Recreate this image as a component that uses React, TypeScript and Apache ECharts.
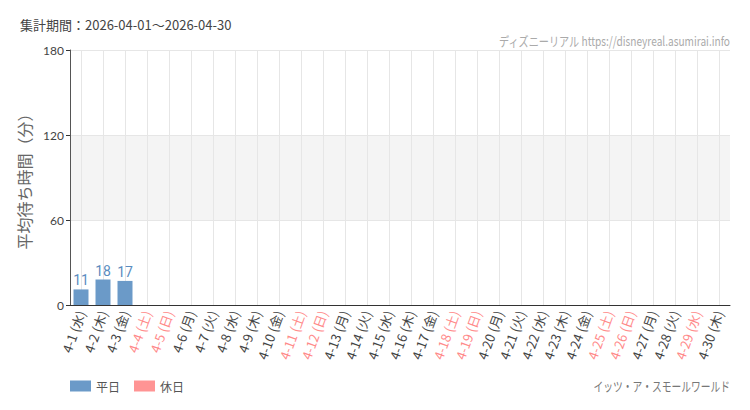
import React, { useEffect, useRef } from "react";
import * as echarts from "echarts";

const categories = [
  "4-1 (水)", "4-2 (木)", "4-3 (金)", "4-4 (土)", "4-5 (日)", "4-6 (月)", "4-7 (火)", "4-8 (水)", "4-9 (木)", "4-10 (金)",
  "4-11 (土)", "4-12 (日)", "4-13 (月)", "4-14 (火)", "4-15 (水)", "4-16 (木)", "4-17 (金)", "4-18 (土)", "4-19 (日)", "4-20 (月)",
  "4-21 (火)", "4-22 (水)", "4-23 (木)", "4-24 (金)", "4-25 (土)", "4-26 (日)", "4-27 (月)", "4-28 (火)", "4-29 (水)", "4-30 (木)",
];
const holidayDates = ["4-4 (土)", "4-5 (日)", "4-11 (土)", "4-12 (日)", "4-18 (土)", "4-19 (日)", "4-25 (土)", "4-26 (日)", "4-29 (水)"];
const weekdayValues: (number | null)[] = [11, 18, 17, null, null, null, null, null, null, null, null, null, null, null, null, null, null, null, null, null, null, null, null, null, null, null, null, null, null, null];
const holidayValues: (number | null)[] = [null, null, null, null, null, null, null, null, null, null, null, null, null, null, null, null, null, null, null, null, null, null, null, null, null, null, null, null, null, null];
const yTicks = [0, 60, 120, 180];

const periodText = "集計期間：2026-04-01～2026-04-30";
const sourceText = "ディズニーリアル https://disneyreal.asumirai.info";
const attractionText = "イッツ・ア・スモールワールド";

const BLUE = "#6b9ac8";
const PINK = "#ff9494";
const JP = "'Noto Sans CJK JP', sans-serif";

export default function App() {
  const ref = useRef<HTMLDivElement>(null);
  useEffect(() => {
    const chart = echarts.init(ref.current!, null, { renderer: "svg" });
    chart.setOption({
      animation: false,
      backgroundColor: "#fff",
      textStyle: { fontFamily: "Lato, 'Noto Sans CJK JP', sans-serif" },
      title: {
        text: periodText,
        left: 15,
        top: 13,
        textStyle: { fontSize: 13, fontWeight: "normal", color: "#444", fontFamily: JP },
      },
      graphic: [
        {
          type: "text",
          x: 730,
          y: 40,
          scaleX: 0.78,
          silent: true,
          style: { text: sourceText, fontSize: 13, fill: "#aaa", fontFamily: JP, textAlign: "right", textVerticalAlign: "middle" },
        },
        {
          type: "text",
          x: 730,
          y: 385,
          scaleX: 0.75,
          silent: true,
          style: { text: attractionText, fontSize: 13, fill: "#777", fontFamily: JP, textAlign: "right", textVerticalAlign: "middle" },
        },
      ],
      legend: {
        left: 65,
        top: 375,
        itemWidth: 21,
        itemHeight: 11,
        itemGap: 14,
        icon: "rect",
        textStyle: { fontSize: 12, color: "#555", fontFamily: JP },
        data: ["平日", "休日"],
      },
      grid: { left: 70, right: 20, top: 50, bottom: 105, containLabel: false },
      xAxis: {
        type: "category",
        data: categories,
        boundaryGap: true,
        axisLine: { lineStyle: { color: "#333" } },
        axisTick: { alignWithLabel: true, length: 4, lineStyle: { color: "#333" } },
        splitLine: { show: false },
        axisLabel: {
          interval: 0,
          rotate: 70,
          fontSize: 13,
          margin: 6,
          color: (v: string) => (holidayDates.includes(v) ? "#ff8a8a" : "#444"),
          fontFamily: JP,
        },
      },
      yAxis: {
        type: "value",
        min: yTicks[0],
        max: yTicks[yTicks.length - 1],
        interval: 60,
        name: "平均待ち時間（分）",
        nameLocation: "middle",
        nameGap: 38,
        nameRotate: 90,
        nameTextStyle: { fontSize: 16, color: "#666", fontFamily: JP },
        axisLine: { show: true, lineStyle: { color: "#555" } },
        axisTick: { show: true, length: 4, lineStyle: { color: "#333" } },
        axisLabel: { fontSize: 12, color: "#444", margin: 6 },
        splitLine: { show: true, lineStyle: { color: "#e6e6e6" } },
        splitArea: { show: true, areaStyle: { color: ["rgba(255,255,255,0)", "#f4f4f4"] } },
      },
      series: [
        {
          name: "平日",
          type: "bar",
          stack: "all",
          barWidth: 15,
          z: 3,
          data: weekdayValues,
          itemStyle: { color: BLUE },
          label: {
            show: true,
            position: "top",
            distance: 2,
            color: "#5a8cc0",
            fontSize: 14,
            fontFamily: "Roboto, sans-serif",
          },
        },
        {
          name: "休日",
          type: "bar",
          stack: "all",
          barWidth: 15,
          z: 3,
          data: holidayValues,
          itemStyle: { color: PINK },
          label: {
            show: true,
            position: "top",
            distance: 2,
            color: "#ff8080",
            fontSize: 14,
            fontFamily: "Roboto, sans-serif",
          },
          markLine: {
            z: 1,
            silent: true,
            symbol: "none",
            label: { show: false },
            lineStyle: { color: "#e6e6e6", type: "solid", width: 1 },
            data: categories.map((c) => ({ xAxis: c })),
          },
        },
      ],
    });
    return () => chart.dispose();
  }, []);
  return <div ref={ref} style={{ position: "absolute", left: 0, top: 0, width: 750, height: 410 }} />;
}
